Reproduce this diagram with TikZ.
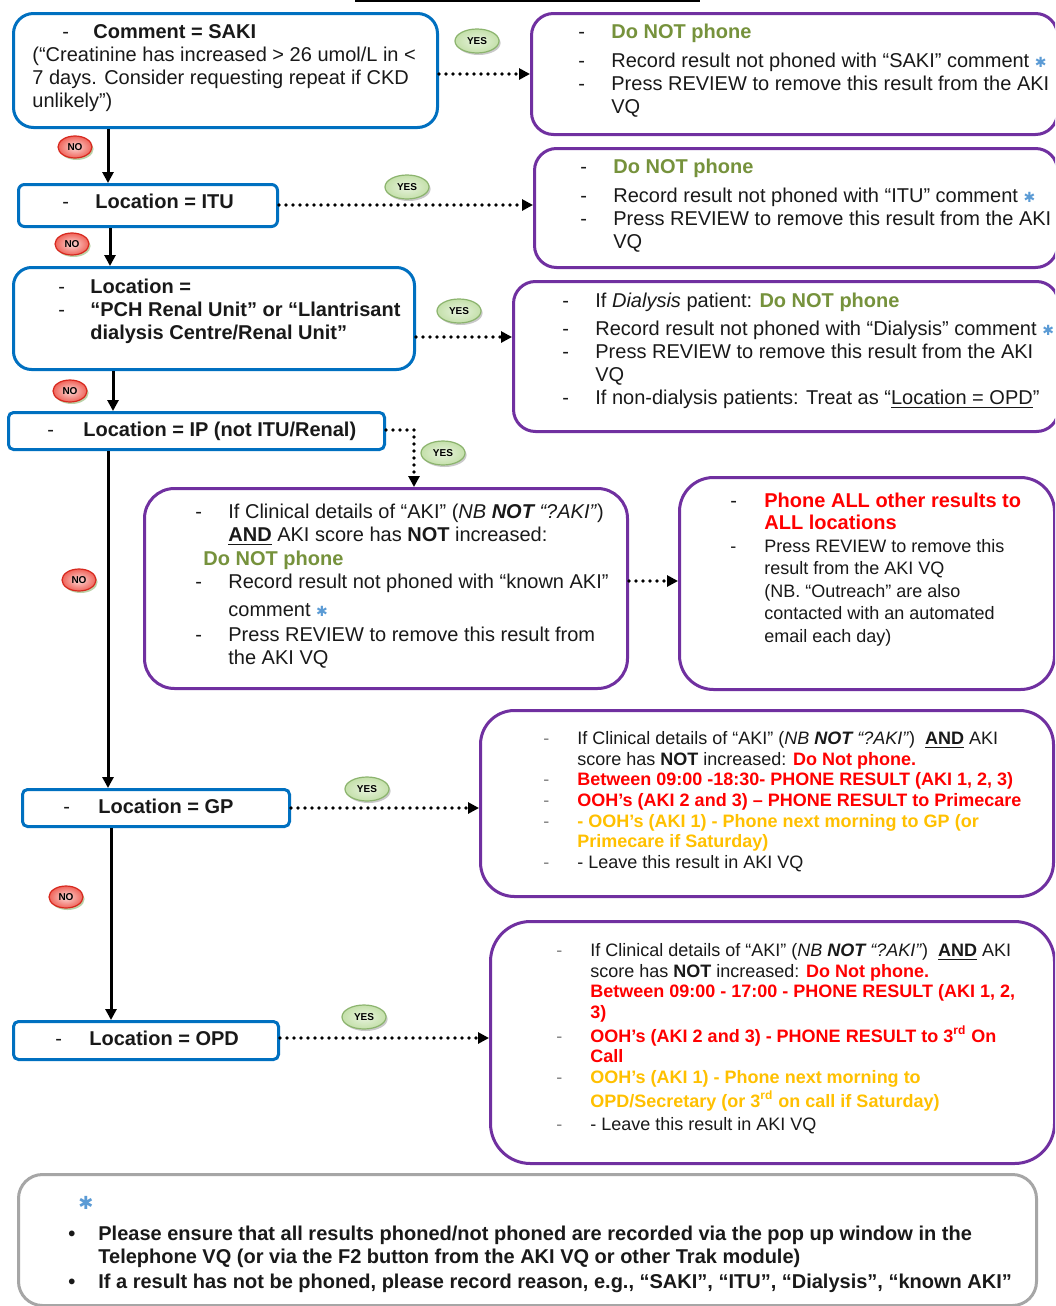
\documentclass[tikz,border=0pt]{standalone}
\usepackage{fontspec}
\setmainfont{Liberation Sans}
\newfontfamily\symfont{DejaVu Sans}
\usetikzlibrary{arrows.meta,shapes.geometric,shadows}

\definecolor{boxblue}{RGB}{0,112,192}
\definecolor{boxpurple}{RGB}{112,48,160}
\definecolor{boxgrey}{RGB}{166,166,166}
\definecolor{okgreen}{RGB}{118,146,60}
\definecolor{alertred}{RGB}{255,0,0}
\definecolor{warnamber}{RGB}{255,192,0}
\definecolor{starblue}{RGB}{91,155,213}
\definecolor{yesfill}{RGB}{196,224,170}
\definecolor{yesrim}{RGB}{140,180,110}
\definecolor{nofill}{RGB}{240,100,90}
\definecolor{norim}{RGB}{215,40,30}

\newcommand{\dsh}[1][16.5pt]{\makebox[#1][l]{-}}
\newcommand{\gdsh}{\makebox[17pt][l]{\textcolor{gray}{-}}}
\newcommand{\indt}[1][16.5pt]{\hspace*{#1}}
\newcommand{\bullitem}{\makebox[15pt][l]{•}}
\newcommand{\bluestar}{{\symfont\color{starblue}\fontsize{7}{7}\selectfont ✱}}
\newcommand{\donot}{\textcolor{okgreen}{\textbf{Do NOT phone}}}
\newcommand{\redb}[1]{\textcolor{alertred}{\textbf{#1}}}
\newcommand{\amberb}[1]{\textcolor{warnamber}{\textbf{#1}}}

\begin{document}
\begin{tikzpicture}[x=0.5pt,y=-0.5pt]
\tikzstyle{qbox}=[draw=boxblue, line width=1.5pt, anchor=north west, inner sep=0pt]
\tikzstyle{rbox}=[draw=boxpurple, line width=1.5pt, anchor=north west, inner sep=0pt]
\tikzstyle{nbox}=[draw=boxgrey, line width=1.5pt, anchor=north west, inner sep=0pt]
\tikzstyle{txt}=[anchor=north west, inner sep=0pt, align=left, text=black!90, font=\fontsize{10}{11.5}\selectfont]
\tikzstyle{smalltxt}=[txt, font=\fontsize{9}{10.35}\selectfont]
\tikzstyle{noflow}=[-{Triangle[length=5.5pt,width=5.5pt]}, line width=1.5pt]
\tikzstyle{yesflow}=[-{Triangle[length=5.5pt,width=5.5pt]}, line width=1.9pt, dash pattern=on 0pt off 3.5pt, line cap=round]
\tikzstyle{nolabel}=[ellipse, minimum width=17pt, minimum height=11pt, inner sep=0pt, draw=norim, line width=0.6pt, inner color=white!75!nofill, outer color=nofill, drop shadow={shadow xshift=0.8pt, shadow yshift=-1pt, fill=yesrim, opacity=0.6}, font=\fontsize{5}{5}\selectfont\bfseries]
\tikzstyle{yeslabel}=[ellipse, minimum width=22pt, minimum height=12pt, inner sep=0pt, draw=yesrim, line width=0.6pt, inner color=white!60!yesfill, outer color=yesfill, drop shadow={shadow xshift=0.8pt, shadow yshift=-1pt, fill=gray!70, opacity=0.6}, font=\fontsize{5}{5}\selectfont\bfseries]

\useasboundingbox (0,0) rectangle (1055,1306);
\clip (0,0) rectangle (1055,1306);
\fill[white] (0,0) rectangle (1055,1306);
\draw[line width=1pt] (355,1) -- (700,1);

% question boxes
\node[qbox, minimum width=212pt, minimum height=57pt, rounded corners=10pt] (saki) at (12,12) {};
\node[qbox, minimum width=129.5pt, minimum height=21pt, rounded corners=3pt] (itu) at (17,183) {};
\node[qbox, minimum width=200.5pt, minimum height=51pt, rounded corners=9pt] (renal) at (12,266) {};
\node[qbox, minimum width=188pt, minimum height=18.5pt, rounded corners=2.5pt] (ip) at (7,411) {};
\node[qbox, minimum width=133.5pt, minimum height=18.5pt, rounded corners=2.5pt] (gp) at (21,788) {};
\node[qbox, minimum width=132.5pt, minimum height=19pt, rounded corners=2.5pt] (opd) at (12,1020) {};

% result boxes
\node[rbox, minimum width=263pt, minimum height=60.5pt, rounded corners=11pt] (sakires) at (530,12) {};
\node[rbox, minimum width=261.5pt, minimum height=59.5pt, rounded corners=11pt] (itures) at (533,147) {};
\node[rbox, minimum width=272.5pt, minimum height=75pt, rounded corners=11pt] (renalres) at (512,280) {};
\node[rbox, minimum width=241.5pt, minimum height=100pt, rounded corners=15pt] (ipres) at (143,487) {};
\node[rbox, minimum width=187.5pt, minimum height=106pt, rounded corners=17pt] (allres) at (678,476) {};
\node[rbox, minimum width=286.5pt, minimum height=93pt, rounded corners=17pt] (gpres) at (479,709) {};
\node[rbox, minimum width=282pt, minimum height=121pt, rounded corners=20pt] (opdres) at (489,920) {};
\node[nbox, minimum width=509pt, minimum height=65.5pt, rounded corners=12pt] (note) at (17,1173) {};

% texts
\node[txt] (sakitxt) at (32,24.5) {\hspace*{15pt}\dsh[15.5pt]\textbf{Comment = SAKI}\\
(“Creatinine has increased > 26 umol/L in <\\
7 days. Consider requesting repeat if CKD\\
unlikely”)};
\node[txt] (itutxt) at (62,193.5) {\dsh\textbf{Location = ITU}};
\node[txt] (renaltxt) at (58,278.5) {\dsh[16pt]\textbf{Location =}\\
\dsh[16pt]\textbf{“PCH Renal Unit” or “Llantrisant}\\
\indt[16pt]\textbf{dialysis Centre/Renal Unit”}};
\node[txt] (iptxt) at (47,421.5) {\dsh[18pt]\textbf{Location = IP (not ITU/Renal)}};
\node[txt] (gptxt) at (63,798.5) {\dsh[17.5pt]\textbf{Location = GP}};
\node[txt] (opdtxt) at (55,1030.5) {\dsh[17pt]\textbf{Location = OPD}};

\node[txt] (sakirestxt) at (578,23.5) {\dsh\donot\\[3pt]
\dsh Record result not phoned with “SAKI” comment \bluestar\\
\dsh Press REVIEW to remove this result from the AKI\\
\indt VQ};
\node[txt] (iturestxt) at (580,158.5) {\dsh\donot\\[3pt]
\dsh Record result not phoned with “ITU” comment \bluestar\\
\dsh Press REVIEW to remove this result from the AKI\\
\indt VQ};
\node[txt] (renalrestxt) at (562,292.5) {\dsh If \textit{Dialysis} patient: \donot\\[2.5pt]
\dsh Record result not phoned with “Dialysis” comment \bluestar\\
\dsh Press REVIEW to remove this result from the AKI\\
\indt VQ\\
\dsh If non-dialysis patients: Treat as “\underline{Location = OPD}”};
\node[txt] (iprestxt) at (195,503.5) {\dsh If Clinical details of “AKI” (\textit{NB \textbf{NOT} “?AKI”})\\
\indt\underline{\textbf{AND}} AKI score has \textbf{NOT} increased:\\[0.5pt]
\hspace*{4pt}\donot\\
\dsh Record result not phoned with “known AKI”\\[2.5pt]
\indt comment \bluestar\\[1pt]
\dsh Press REVIEW to remove this result from\\
\indt the AKI VQ};
\node[txt, font=\fontsize{9}{11.25}\selectfont] (allrestxt) at (730,492.5) {{\fontsize{10}{11.5}\selectfont\dsh[17pt]\redb{Phone ALL other results to}}\\
{\fontsize{10}{11.5}\selectfont\indt[17pt]\redb{ALL locations}}\\
\dsh[17pt]Press REVIEW to remove this\\
\indt[17pt]result from the AKI VQ\\
\indt[17pt](NB. “Outreach” are also\\
\indt[17pt]contacted with an automated\\
\indt[17pt]email each day)};
\node[smalltxt] (gprestxt) at (543,731) {\gdsh If Clinical details of “AKI” (\textit{NB \textbf{NOT} “?AKI”})~~\underline{\textbf{AND}} AKI\\
\indt[17pt]score has \textbf{NOT} increased: \redb{Do Not phone.}\\
\gdsh\redb{Between 09:00 -18:30- PHONE RESULT (AKI 1, 2, 3)}\\
\gdsh\redb{OOH’s (AKI 2 and 3) – PHONE RESULT to Primecare}\\
\gdsh\amberb{- OOH’s (AKI 1) - Phone next morning to GP (or}\\
\indt[17pt]\amberb{Primecare if Saturday)}\\
\gdsh - Leave this result in AKI VQ};
\node[smalltxt] (opdrestxt) at (556,943) {\gdsh If Clinical details of “AKI” (\textit{NB \textbf{NOT} “?AKI”})~~\underline{\textbf{AND}} AKI\\
\indt[17pt]score has \textbf{NOT} increased: \redb{Do Not phone.}\\
\indt[17pt]\redb{Between 09:00 - 17:00 - PHONE RESULT (AKI 1, 2,}\\
\indt[17pt]\redb{3)}\\[1.5pt]
\gdsh\redb{OOH’s (AKI 2 and 3) - PHONE RESULT to 3\textsuperscript{rd} On}\\
\indt[17pt]\redb{Call}\\
\gdsh\amberb{OOH’s (AKI 1) - Phone next morning to}\\[1.5pt]
\indt[17pt]\amberb{OPD/Secretary (or 3\textsuperscript{rd} on call if Saturday)}\\[1pt]
\gdsh - Leave this result in AKI VQ};
\node[txt, font=\fontsize{10}{11.5}\selectfont\bfseries] (notetxt) at (68,1196) {\hspace*{5pt}{\symfont\color{starblue}\fontsize{9}{9}\selectfont ✱}\\[4pt]
\bullitem Please ensure that all results phoned/not phoned are recorded via the pop up window in the\\
\indt[15pt]Telephone VQ (or via the F2 button from the AKI VQ or other Trak module)\\[1pt]
\bullitem If a result has not be phoned, please record reason, e.g., “SAKI”, “ITU”, “Dialysis”, “known AKI”};

% NO path
\foreach \from/\to/\xx in {saki/itu/108,itu/renal/110,renal/ip/113,ip/gp/108,gp/opd/111}
\draw [noflow] (\xx,0 |- \from.south) -- (\xx,0 |- \to.north);

% YES path
\foreach \from/\to/\yy in {saki/sakires/74,itu/itures/205,renal/renalres/337,ipres/allres/581,gp/gpres/808,opd/opdres/1038}
\draw [yesflow] (\from.east |- 0,\yy) -- (\to.west |- 0,\yy);
\coordinate (ipturn) at (414,430);
\draw [yesflow] (ip.east |- ipturn) -| (ipturn |- ipres.north);

\foreach \nm/\px/\py in {no1/75/147,no2/72/244,no3/70/391,no4/79/580,no5/66/897}
\node[nolabel] (\nm) at (\px,\py) {NO};
\foreach \nm/\px/\py in {yes1/477/41,yes2/407/187,yes3/459/311,yes4/443/453,yes5/367/789,yes6/364/1017}
\node[yeslabel] (\nm) at (\px,\py) {YES};
\end{tikzpicture}
\end{document}
